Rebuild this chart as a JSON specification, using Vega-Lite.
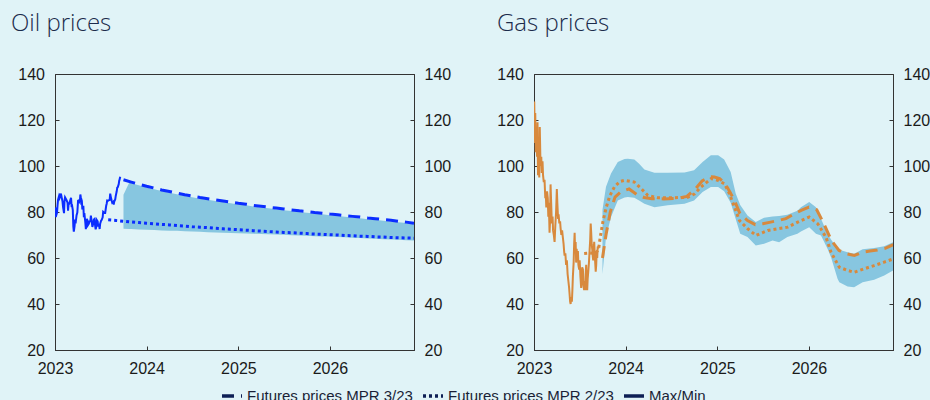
{
  "$schema": "https://vega.github.io/schema/vega-lite/v6.json",
  "background": "#e0f3f7",
  "padding": {"left": 10, "top": 11, "right": 0, "bottom": 0},
  "autosize": {"type": "pad"},
  "bounds": "flush",
  "spacing": 120,
  "datasets": {
    "oil_spot": [
      {"date": "2023-01-02", "value": 82.0}, {"date": "2023-01-04", "value": 77.8}, {"date": "2023-01-06", "value": 78.6},
      {"date": "2023-01-09", "value": 79.6}, {"date": "2023-01-11", "value": 82.7}, {"date": "2023-01-13", "value": 85.3},
      {"date": "2023-01-17", "value": 86.9}, {"date": "2023-01-19", "value": 86.2}, {"date": "2023-01-23", "value": 88.0},
      {"date": "2023-01-25", "value": 86.1}, {"date": "2023-01-27", "value": 86.7}, {"date": "2023-01-31", "value": 84.5},
      {"date": "2023-02-02", "value": 82.2}, {"date": "2023-02-06", "value": 79.5}, {"date": "2023-02-08", "value": 85.1},
      {"date": "2023-02-10", "value": 86.4}, {"date": "2023-02-14", "value": 85.6}, {"date": "2023-02-16", "value": 85.1},
      {"date": "2023-02-20", "value": 84.1}, {"date": "2023-02-22", "value": 80.6}, {"date": "2023-02-24", "value": 83.2},
      {"date": "2023-02-28", "value": 83.9}, {"date": "2023-03-02", "value": 84.8}, {"date": "2023-03-06", "value": 86.2},
      {"date": "2023-03-08", "value": 82.7}, {"date": "2023-03-10", "value": 82.8}, {"date": "2023-03-13", "value": 80.8},
      {"date": "2023-03-15", "value": 73.7}, {"date": "2023-03-17", "value": 71.5}, {"date": "2023-03-20", "value": 73.8},
      {"date": "2023-03-22", "value": 76.7}, {"date": "2023-03-24", "value": 75.0}, {"date": "2023-03-28", "value": 78.6},
      {"date": "2023-03-31", "value": 79.8}, {"date": "2023-04-03", "value": 84.9}, {"date": "2023-04-05", "value": 85.0},
      {"date": "2023-04-10", "value": 84.2}, {"date": "2023-04-12", "value": 87.6}, {"date": "2023-04-14", "value": 86.3},
      {"date": "2023-04-18", "value": 84.8}, {"date": "2023-04-20", "value": 81.1}, {"date": "2023-04-24", "value": 82.7},
      {"date": "2023-04-26", "value": 77.7}, {"date": "2023-04-28", "value": 79.5}, {"date": "2023-05-02", "value": 75.3},
      {"date": "2023-05-04", "value": 72.5}, {"date": "2023-05-08", "value": 77.0}, {"date": "2023-05-10", "value": 76.4},
      {"date": "2023-05-12", "value": 74.2}, {"date": "2023-05-16", "value": 74.9}, {"date": "2023-05-18", "value": 75.9},
      {"date": "2023-05-22", "value": 76.0}, {"date": "2023-05-24", "value": 78.4}, {"date": "2023-05-26", "value": 76.9},
      {"date": "2023-05-30", "value": 73.5}, {"date": "2023-06-01", "value": 74.3}, {"date": "2023-06-05", "value": 76.7},
      {"date": "2023-06-07", "value": 76.9}, {"date": "2023-06-09", "value": 74.8}, {"date": "2023-06-12", "value": 72.5},
      {"date": "2023-06-14", "value": 73.2}, {"date": "2023-06-16", "value": 76.6}, {"date": "2023-06-20", "value": 75.9},
      {"date": "2023-06-22", "value": 74.1}, {"date": "2023-06-26", "value": 74.2}, {"date": "2023-06-28", "value": 72.6},
      {"date": "2023-06-30", "value": 74.9}, {"date": "2023-07-04", "value": 76.3}, {"date": "2023-07-06", "value": 76.5},
      {"date": "2023-07-10", "value": 77.7}, {"date": "2023-07-12", "value": 80.1}, {"date": "2023-07-14", "value": 79.9},
      {"date": "2023-07-18", "value": 79.6}, {"date": "2023-07-20", "value": 79.6}, {"date": "2023-07-24", "value": 82.7},
      {"date": "2023-07-26", "value": 83.6}, {"date": "2023-07-28", "value": 85.0}, {"date": "2023-08-01", "value": 84.9},
      {"date": "2023-08-03", "value": 85.1}, {"date": "2023-08-07", "value": 85.3}, {"date": "2023-08-09", "value": 88.0},
      {"date": "2023-08-11", "value": 86.8}, {"date": "2023-08-15", "value": 84.9}, {"date": "2023-08-17", "value": 84.1},
      {"date": "2023-08-21", "value": 84.5}, {"date": "2023-08-23", "value": 83.2}, {"date": "2023-08-25", "value": 84.5},
      {"date": "2023-08-29", "value": 85.5}, {"date": "2023-08-31", "value": 86.9}, {"date": "2023-09-04", "value": 89.0},
      {"date": "2023-09-06", "value": 90.6}, {"date": "2023-09-08", "value": 90.7}, {"date": "2023-09-12", "value": 92.1},
      {"date": "2023-09-14", "value": 93.7}, {"date": "2023-09-15", "value": 93.9}, {"date": "2023-09-18", "value": 95.3}
    ],
    "oil_fut": [
      {"series": "Futures prices MPR 3/23", "date": "2023-10-01", "value": 94.0},
      {"series": "Futures prices MPR 3/23", "date": "2023-11-01", "value": 93.0},
      {"series": "Futures prices MPR 3/23", "date": "2023-12-01", "value": 92.1},
      {"series": "Futures prices MPR 3/23", "date": "2024-01-01", "value": 91.2},
      {"series": "Futures prices MPR 3/23", "date": "2024-02-01", "value": 90.4},
      {"series": "Futures prices MPR 3/23", "date": "2024-03-01", "value": 89.6},
      {"series": "Futures prices MPR 3/23", "date": "2024-04-01", "value": 88.9},
      {"series": "Futures prices MPR 3/23", "date": "2024-05-01", "value": 88.2},
      {"series": "Futures prices MPR 3/23", "date": "2024-06-01", "value": 87.5},
      {"series": "Futures prices MPR 3/23", "date": "2024-07-01", "value": 86.9},
      {"series": "Futures prices MPR 3/23", "date": "2024-08-01", "value": 86.3},
      {"series": "Futures prices MPR 3/23", "date": "2024-09-01", "value": 85.8},
      {"series": "Futures prices MPR 3/23", "date": "2024-10-01", "value": 85.3},
      {"series": "Futures prices MPR 3/23", "date": "2024-11-01", "value": 84.8},
      {"series": "Futures prices MPR 3/23", "date": "2024-12-01", "value": 84.3},
      {"series": "Futures prices MPR 3/23", "date": "2025-01-01", "value": 83.8},
      {"series": "Futures prices MPR 3/23", "date": "2025-02-01", "value": 83.4},
      {"series": "Futures prices MPR 3/23", "date": "2025-03-01", "value": 82.9},
      {"series": "Futures prices MPR 3/23", "date": "2025-04-01", "value": 82.5},
      {"series": "Futures prices MPR 3/23", "date": "2025-05-01", "value": 82.1},
      {"series": "Futures prices MPR 3/23", "date": "2025-06-01", "value": 81.7},
      {"series": "Futures prices MPR 3/23", "date": "2025-07-01", "value": 81.3},
      {"series": "Futures prices MPR 3/23", "date": "2025-08-01", "value": 80.9},
      {"series": "Futures prices MPR 3/23", "date": "2025-09-01", "value": 80.5},
      {"series": "Futures prices MPR 3/23", "date": "2025-10-01", "value": 80.2},
      {"series": "Futures prices MPR 3/23", "date": "2025-11-01", "value": 79.8},
      {"series": "Futures prices MPR 3/23", "date": "2025-12-01", "value": 79.5},
      {"series": "Futures prices MPR 3/23", "date": "2026-01-01", "value": 79.1},
      {"series": "Futures prices MPR 3/23", "date": "2026-02-01", "value": 78.8},
      {"series": "Futures prices MPR 3/23", "date": "2026-03-01", "value": 78.4},
      {"series": "Futures prices MPR 3/23", "date": "2026-04-01", "value": 78.1},
      {"series": "Futures prices MPR 3/23", "date": "2026-05-01", "value": 77.8},
      {"series": "Futures prices MPR 3/23", "date": "2026-06-01", "value": 77.4},
      {"series": "Futures prices MPR 3/23", "date": "2026-07-01", "value": 77.1},
      {"series": "Futures prices MPR 3/23", "date": "2026-08-01", "value": 76.7},
      {"series": "Futures prices MPR 3/23", "date": "2026-09-01", "value": 76.4},
      {"series": "Futures prices MPR 3/23", "date": "2026-10-01", "value": 76.0},
      {"series": "Futures prices MPR 3/23", "date": "2026-11-01", "value": 75.6},
      {"series": "Futures prices MPR 3/23", "date": "2026-12-02", "value": 75.1},
      {"series": "Futures prices MPR 2/23", "date": "2023-08-01", "value": 76.6},
      {"series": "Futures prices MPR 2/23", "date": "2023-09-01", "value": 76.3},
      {"series": "Futures prices MPR 2/23", "date": "2023-10-01", "value": 76.0},
      {"series": "Futures prices MPR 2/23", "date": "2023-11-01", "value": 75.7},
      {"series": "Futures prices MPR 2/23", "date": "2023-12-01", "value": 75.4},
      {"series": "Futures prices MPR 2/23", "date": "2024-01-01", "value": 75.1},
      {"series": "Futures prices MPR 2/23", "date": "2024-02-01", "value": 74.9},
      {"series": "Futures prices MPR 2/23", "date": "2024-03-01", "value": 74.6},
      {"series": "Futures prices MPR 2/23", "date": "2024-04-01", "value": 74.4},
      {"series": "Futures prices MPR 2/23", "date": "2024-05-01", "value": 74.1},
      {"series": "Futures prices MPR 2/23", "date": "2024-06-01", "value": 73.9},
      {"series": "Futures prices MPR 2/23", "date": "2024-07-01", "value": 73.6},
      {"series": "Futures prices MPR 2/23", "date": "2024-08-01", "value": 73.4},
      {"series": "Futures prices MPR 2/23", "date": "2024-09-01", "value": 73.2},
      {"series": "Futures prices MPR 2/23", "date": "2024-10-01", "value": 72.9},
      {"series": "Futures prices MPR 2/23", "date": "2024-11-01", "value": 72.7},
      {"series": "Futures prices MPR 2/23", "date": "2024-12-01", "value": 72.5},
      {"series": "Futures prices MPR 2/23", "date": "2025-01-01", "value": 72.3},
      {"series": "Futures prices MPR 2/23", "date": "2025-02-01", "value": 72.1},
      {"series": "Futures prices MPR 2/23", "date": "2025-03-01", "value": 71.9},
      {"series": "Futures prices MPR 2/23", "date": "2025-04-01", "value": 71.7},
      {"series": "Futures prices MPR 2/23", "date": "2025-05-01", "value": 71.5},
      {"series": "Futures prices MPR 2/23", "date": "2025-06-01", "value": 71.3},
      {"series": "Futures prices MPR 2/23", "date": "2025-07-01", "value": 71.1},
      {"series": "Futures prices MPR 2/23", "date": "2025-08-01", "value": 71.0},
      {"series": "Futures prices MPR 2/23", "date": "2025-09-01", "value": 70.8},
      {"series": "Futures prices MPR 2/23", "date": "2025-10-01", "value": 70.6},
      {"series": "Futures prices MPR 2/23", "date": "2025-11-01", "value": 70.4},
      {"series": "Futures prices MPR 2/23", "date": "2025-12-01", "value": 70.3},
      {"series": "Futures prices MPR 2/23", "date": "2026-01-01", "value": 70.1},
      {"series": "Futures prices MPR 2/23", "date": "2026-02-01", "value": 70.0},
      {"series": "Futures prices MPR 2/23", "date": "2026-03-01", "value": 69.8},
      {"series": "Futures prices MPR 2/23", "date": "2026-04-01", "value": 69.7},
      {"series": "Futures prices MPR 2/23", "date": "2026-05-01", "value": 69.5},
      {"series": "Futures prices MPR 2/23", "date": "2026-06-01", "value": 69.4},
      {"series": "Futures prices MPR 2/23", "date": "2026-07-01", "value": 69.2},
      {"series": "Futures prices MPR 2/23", "date": "2026-08-01", "value": 69.1},
      {"series": "Futures prices MPR 2/23", "date": "2026-09-01", "value": 68.9},
      {"series": "Futures prices MPR 2/23", "date": "2026-10-01", "value": 68.8},
      {"series": "Futures prices MPR 2/23", "date": "2026-11-01", "value": 68.7},
      {"series": "Futures prices MPR 2/23", "date": "2026-12-02", "value": 68.6}
    ],
    "oil_band": [
      {"series": "Max/Min", "date": "2023-10-01", "lo": 72.7, "hi": 87.5},
      {"series": "Max/Min", "date": "2023-10-25", "lo": 72.65, "hi": 93.0},
      {"series": "Max/Min", "date": "2023-11-01", "lo": 72.6, "hi": 92.5},
      {"series": "Max/Min", "date": "2023-12-01", "lo": 72.4, "hi": 91.6},
      {"series": "Max/Min", "date": "2024-01-01", "lo": 72.3, "hi": 90.7},
      {"series": "Max/Min", "date": "2024-02-01", "lo": 72.2, "hi": 89.9},
      {"series": "Max/Min", "date": "2024-03-01", "lo": 72.0, "hi": 89.1},
      {"series": "Max/Min", "date": "2024-04-01", "lo": 71.9, "hi": 88.4},
      {"series": "Max/Min", "date": "2024-05-01", "lo": 71.8, "hi": 87.7},
      {"series": "Max/Min", "date": "2024-06-01", "lo": 71.6, "hi": 87.0},
      {"series": "Max/Min", "date": "2024-07-01", "lo": 71.5, "hi": 86.4},
      {"series": "Max/Min", "date": "2024-08-01", "lo": 71.4, "hi": 85.8},
      {"series": "Max/Min", "date": "2024-09-01", "lo": 71.2, "hi": 85.3},
      {"series": "Max/Min", "date": "2024-10-01", "lo": 71.1, "hi": 84.8},
      {"series": "Max/Min", "date": "2024-11-01", "lo": 71.0, "hi": 84.3},
      {"series": "Max/Min", "date": "2024-12-01", "lo": 70.9, "hi": 83.8},
      {"series": "Max/Min", "date": "2025-01-01", "lo": 70.8, "hi": 83.3},
      {"series": "Max/Min", "date": "2025-02-01", "lo": 70.7, "hi": 82.9},
      {"series": "Max/Min", "date": "2025-03-01", "lo": 70.5, "hi": 82.4},
      {"series": "Max/Min", "date": "2025-04-01", "lo": 70.4, "hi": 82.0},
      {"series": "Max/Min", "date": "2025-05-01", "lo": 70.3, "hi": 81.6},
      {"series": "Max/Min", "date": "2025-06-01", "lo": 70.2, "hi": 81.2},
      {"series": "Max/Min", "date": "2025-07-01", "lo": 70.1, "hi": 80.8},
      {"series": "Max/Min", "date": "2025-08-01", "lo": 69.9, "hi": 80.4},
      {"series": "Max/Min", "date": "2025-09-01", "lo": 69.8, "hi": 80.0},
      {"series": "Max/Min", "date": "2025-10-01", "lo": 69.7, "hi": 79.7},
      {"series": "Max/Min", "date": "2025-11-01", "lo": 69.5, "hi": 79.3},
      {"series": "Max/Min", "date": "2025-12-01", "lo": 69.4, "hi": 79.0},
      {"series": "Max/Min", "date": "2026-01-01", "lo": 69.3, "hi": 78.6},
      {"series": "Max/Min", "date": "2026-02-01", "lo": 69.1, "hi": 78.3},
      {"series": "Max/Min", "date": "2026-03-01", "lo": 69.0, "hi": 77.9},
      {"series": "Max/Min", "date": "2026-04-01", "lo": 68.8, "hi": 77.6},
      {"series": "Max/Min", "date": "2026-05-01", "lo": 68.7, "hi": 77.3},
      {"series": "Max/Min", "date": "2026-06-01", "lo": 68.5, "hi": 76.9},
      {"series": "Max/Min", "date": "2026-07-01", "lo": 68.4, "hi": 76.6},
      {"series": "Max/Min", "date": "2026-08-01", "lo": 68.2, "hi": 76.2},
      {"series": "Max/Min", "date": "2026-09-01", "lo": 68.0, "hi": 75.9},
      {"series": "Max/Min", "date": "2026-10-01", "lo": 67.9, "hi": 75.5},
      {"series": "Max/Min", "date": "2026-11-01", "lo": 67.7, "hi": 75.2},
      {"series": "Max/Min", "date": "2026-12-02", "lo": 67.6, "hi": 74.9}
    ],
    "gas_spot": [
      {"date": "2023-01-01", "value": 110}, {"date": "2023-01-02", "value": 128}, {"date": "2023-01-04", "value": 112},
      {"date": "2023-01-06", "value": 123}, {"date": "2023-01-08", "value": 106}, {"date": "2023-01-10", "value": 116},
      {"date": "2023-01-13", "value": 104}, {"date": "2023-01-15", "value": 119}, {"date": "2023-01-17", "value": 96},
      {"date": "2023-01-20", "value": 103}, {"date": "2023-01-22", "value": 95}, {"date": "2023-01-24", "value": 117},
      {"date": "2023-01-27", "value": 100}, {"date": "2023-01-30", "value": 104}, {"date": "2023-02-01", "value": 97},
      {"date": "2023-02-04", "value": 102}, {"date": "2023-02-06", "value": 96}, {"date": "2023-02-09", "value": 93},
      {"date": "2023-02-12", "value": 94}, {"date": "2023-02-15", "value": 86}, {"date": "2023-02-17", "value": 88},
      {"date": "2023-02-19", "value": 82}, {"date": "2023-02-22", "value": 89}, {"date": "2023-02-25", "value": 86},
      {"date": "2023-02-27", "value": 78}, {"date": "2023-03-01", "value": 84}, {"date": "2023-03-04", "value": 71},
      {"date": "2023-03-06", "value": 76}, {"date": "2023-03-08", "value": 92}, {"date": "2023-03-11", "value": 82},
      {"date": "2023-03-13", "value": 75}, {"date": "2023-03-16", "value": 78}, {"date": "2023-03-18", "value": 72},
      {"date": "2023-03-21", "value": 70}, {"date": "2023-03-24", "value": 67}, {"date": "2023-03-27", "value": 74},
      {"date": "2023-03-30", "value": 80}, {"date": "2023-04-02", "value": 90}, {"date": "2023-04-04", "value": 84},
      {"date": "2023-04-07", "value": 77}, {"date": "2023-04-09", "value": 79}, {"date": "2023-04-12", "value": 75},
      {"date": "2023-04-15", "value": 76}, {"date": "2023-04-17", "value": 73}, {"date": "2023-04-20", "value": 70},
      {"date": "2023-04-23", "value": 72}, {"date": "2023-04-26", "value": 69}, {"date": "2023-04-29", "value": 66},
      {"date": "2023-05-01", "value": 63}, {"date": "2023-05-03", "value": 61}, {"date": "2023-05-06", "value": 62},
      {"date": "2023-05-09", "value": 57}, {"date": "2023-05-12", "value": 59}, {"date": "2023-05-15", "value": 53},
      {"date": "2023-05-18", "value": 50}, {"date": "2023-05-21", "value": 47}, {"date": "2023-05-23", "value": 44},
      {"date": "2023-05-25", "value": 41}, {"date": "2023-05-27", "value": 40}, {"date": "2023-05-29", "value": 43},
      {"date": "2023-06-01", "value": 41}, {"date": "2023-06-03", "value": 46}, {"date": "2023-06-05", "value": 52},
      {"date": "2023-06-08", "value": 58}, {"date": "2023-06-10", "value": 66}, {"date": "2023-06-12", "value": 71},
      {"date": "2023-06-14", "value": 62}, {"date": "2023-06-16", "value": 67}, {"date": "2023-06-18", "value": 58},
      {"date": "2023-06-20", "value": 64}, {"date": "2023-06-22", "value": 61}, {"date": "2023-06-25", "value": 63},
      {"date": "2023-06-27", "value": 57}, {"date": "2023-06-30", "value": 55}, {"date": "2023-07-02", "value": 59},
      {"date": "2023-07-05", "value": 52}, {"date": "2023-07-08", "value": 47}, {"date": "2023-07-10", "value": 51},
      {"date": "2023-07-12", "value": 56}, {"date": "2023-07-15", "value": 55}, {"date": "2023-07-17", "value": 48},
      {"date": "2023-07-20", "value": 46}, {"date": "2023-07-22", "value": 50}, {"date": "2023-07-24", "value": 46},
      {"date": "2023-07-26", "value": 53}, {"date": "2023-07-28", "value": 57}, {"date": "2023-07-30", "value": 49},
      {"date": "2023-08-01", "value": 46}, {"date": "2023-08-03", "value": 51}, {"date": "2023-08-06", "value": 55},
      {"date": "2023-08-08", "value": 58}, {"date": "2023-08-10", "value": 62}, {"date": "2023-08-13", "value": 68},
      {"date": "2023-08-15", "value": 75}, {"date": "2023-08-17", "value": 71}, {"date": "2023-08-19", "value": 66},
      {"date": "2023-08-21", "value": 64}, {"date": "2023-08-23", "value": 61}, {"date": "2023-08-25", "value": 59},
      {"date": "2023-08-27", "value": 64}, {"date": "2023-08-29", "value": 67}, {"date": "2023-08-31", "value": 62},
      {"date": "2023-09-02", "value": 58}, {"date": "2023-09-04", "value": 54}, {"date": "2023-09-06", "value": 57},
      {"date": "2023-09-08", "value": 63}, {"date": "2023-09-10", "value": 60}, {"date": "2023-09-12", "value": 65},
      {"date": "2023-09-15", "value": 64}
    ],
    "gas_fut": [
      {"series": "Futures prices MPR 3/23", "date": "2023-10-01", "value": 60.0},
      {"series": "Futures prices MPR 3/23", "date": "2023-10-15", "value": 70.0},
      {"series": "Futures prices MPR 3/23", "date": "2023-11-01", "value": 80.0},
      {"series": "Futures prices MPR 3/23", "date": "2023-11-20", "value": 86.5},
      {"series": "Futures prices MPR 3/23", "date": "2023-12-15", "value": 89.0},
      {"series": "Futures prices MPR 3/23", "date": "2024-01-15", "value": 90.0},
      {"series": "Futures prices MPR 3/23", "date": "2024-02-15", "value": 87.6},
      {"series": "Futures prices MPR 3/23", "date": "2024-03-15", "value": 86.3},
      {"series": "Futures prices MPR 3/23", "date": "2024-04-15", "value": 85.8},
      {"series": "Futures prices MPR 3/23", "date": "2024-06-01", "value": 85.7},
      {"series": "Futures prices MPR 3/23", "date": "2024-08-01", "value": 86.0},
      {"series": "Futures prices MPR 3/23", "date": "2024-09-01", "value": 86.8},
      {"series": "Futures prices MPR 3/23", "date": "2024-10-01", "value": 89.5},
      {"series": "Futures prices MPR 3/23", "date": "2024-11-01", "value": 93.5},
      {"series": "Futures prices MPR 3/23", "date": "2024-12-01", "value": 95.3},
      {"series": "Futures prices MPR 3/23", "date": "2024-12-20", "value": 95.2},
      {"series": "Futures prices MPR 3/23", "date": "2025-01-10", "value": 94.5},
      {"series": "Futures prices MPR 3/23", "date": "2025-02-01", "value": 92.3},
      {"series": "Futures prices MPR 3/23", "date": "2025-02-20", "value": 88.7},
      {"series": "Futures prices MPR 3/23", "date": "2025-03-10", "value": 85.0},
      {"series": "Futures prices MPR 3/23", "date": "2025-04-01", "value": 79.3},
      {"series": "Futures prices MPR 3/23", "date": "2025-05-01", "value": 76.3},
      {"series": "Futures prices MPR 3/23", "date": "2025-06-01", "value": 74.5},
      {"series": "Futures prices MPR 3/23", "date": "2025-07-01", "value": 74.9},
      {"series": "Futures prices MPR 3/23", "date": "2025-08-01", "value": 75.6},
      {"series": "Futures prices MPR 3/23", "date": "2025-09-01", "value": 76.3},
      {"series": "Futures prices MPR 3/23", "date": "2025-10-01", "value": 77.1},
      {"series": "Futures prices MPR 3/23", "date": "2025-11-01", "value": 79.0},
      {"series": "Futures prices MPR 3/23", "date": "2025-12-01", "value": 80.7},
      {"series": "Futures prices MPR 3/23", "date": "2026-01-01", "value": 82.1},
      {"series": "Futures prices MPR 3/23", "date": "2026-02-01", "value": 81.0},
      {"series": "Futures prices MPR 3/23", "date": "2026-03-01", "value": 75.0},
      {"series": "Futures prices MPR 3/23", "date": "2026-04-01", "value": 67.5},
      {"series": "Futures prices MPR 3/23", "date": "2026-05-01", "value": 63.3},
      {"series": "Futures prices MPR 3/23", "date": "2026-06-01", "value": 61.8},
      {"series": "Futures prices MPR 3/23", "date": "2026-07-01", "value": 61.1},
      {"series": "Futures prices MPR 3/23", "date": "2026-08-01", "value": 62.5},
      {"series": "Futures prices MPR 3/23", "date": "2026-09-01", "value": 63.0},
      {"series": "Futures prices MPR 3/23", "date": "2026-10-01", "value": 63.5},
      {"series": "Futures prices MPR 3/23", "date": "2026-11-01", "value": 64.2},
      {"series": "Futures prices MPR 3/23", "date": "2026-12-03", "value": 65.8},
      {"series": "Futures prices MPR 2/23", "date": "2023-07-20", "value": 62.0},
      {"series": "Futures prices MPR 2/23", "date": "2023-08-10", "value": 62.2},
      {"series": "Futures prices MPR 2/23", "date": "2023-09-01", "value": 62.0},
      {"series": "Futures prices MPR 2/23", "date": "2023-09-15", "value": 63.5},
      {"series": "Futures prices MPR 2/23", "date": "2023-09-22", "value": 69.0},
      {"series": "Futures prices MPR 2/23", "date": "2023-10-03", "value": 76.0},
      {"series": "Futures prices MPR 2/23", "date": "2023-10-16", "value": 82.0},
      {"series": "Futures prices MPR 2/23", "date": "2023-10-30", "value": 87.0},
      {"series": "Futures prices MPR 2/23", "date": "2023-11-18", "value": 91.0},
      {"series": "Futures prices MPR 2/23", "date": "2023-12-10", "value": 93.3},
      {"series": "Futures prices MPR 2/23", "date": "2023-12-28", "value": 93.8},
      {"series": "Futures prices MPR 2/23", "date": "2024-02-05", "value": 93.0},
      {"series": "Futures prices MPR 2/23", "date": "2024-03-03", "value": 90.2},
      {"series": "Futures prices MPR 2/23", "date": "2024-03-30", "value": 87.2},
      {"series": "Futures prices MPR 2/23", "date": "2024-05-09", "value": 86.2},
      {"series": "Futures prices MPR 2/23", "date": "2024-07-07", "value": 86.2},
      {"series": "Futures prices MPR 2/23", "date": "2024-09-05", "value": 86.4},
      {"series": "Futures prices MPR 2/23", "date": "2024-10-01", "value": 87.8},
      {"series": "Futures prices MPR 2/23", "date": "2024-10-28", "value": 90.9},
      {"series": "Futures prices MPR 2/23", "date": "2024-12-07", "value": 94.5},
      {"series": "Futures prices MPR 2/23", "date": "2025-01-02", "value": 93.8},
      {"series": "Futures prices MPR 2/23", "date": "2025-01-29", "value": 92.3},
      {"series": "Futures prices MPR 2/23", "date": "2025-02-18", "value": 88.0},
      {"series": "Futures prices MPR 2/23", "date": "2025-03-10", "value": 82.1},
      {"series": "Futures prices MPR 2/23", "date": "2025-03-30", "value": 76.3},
      {"series": "Futures prices MPR 2/23", "date": "2025-05-02", "value": 72.7},
      {"series": "Futures prices MPR 2/23", "date": "2025-06-04", "value": 69.8},
      {"series": "Futures prices MPR 2/23", "date": "2025-07-21", "value": 72.0},
      {"series": "Futures prices MPR 2/23", "date": "2025-08-29", "value": 72.7},
      {"series": "Futures prices MPR 2/23", "date": "2025-10-08", "value": 73.4},
      {"series": "Futures prices MPR 2/23", "date": "2025-11-17", "value": 75.6},
      {"series": "Futures prices MPR 2/23", "date": "2026-01-02", "value": 77.8},
      {"series": "Futures prices MPR 2/23", "date": "2026-02-05", "value": 74.9},
      {"series": "Futures prices MPR 2/23", "date": "2026-03-10", "value": 69.0},
      {"series": "Futures prices MPR 2/23", "date": "2026-03-30", "value": 62.5},
      {"series": "Futures prices MPR 2/23", "date": "2026-05-02", "value": 56.0},
      {"series": "Futures prices MPR 2/23", "date": "2026-06-04", "value": 54.6},
      {"series": "Futures prices MPR 2/23", "date": "2026-06-30", "value": 53.8},
      {"series": "Futures prices MPR 2/23", "date": "2026-08-09", "value": 55.3},
      {"series": "Futures prices MPR 2/23", "date": "2026-09-18", "value": 56.7},
      {"series": "Futures prices MPR 2/23", "date": "2026-10-28", "value": 58.2},
      {"series": "Futures prices MPR 2/23", "date": "2026-12-03", "value": 59.6}
    ],
    "gas_band": [
      {"series": "Max/Min", "date": "2023-10-01", "lo": 53.0, "hi": 81.0},
      {"series": "Max/Min", "date": "2023-10-15", "lo": 69.0, "hi": 91.0},
      {"series": "Max/Min", "date": "2023-11-04", "lo": 77.8, "hi": 96.7},
      {"series": "Max/Min", "date": "2023-12-01", "lo": 85.0, "hi": 101.7},
      {"series": "Max/Min", "date": "2023-12-28", "lo": 86.3, "hi": 103.0},
      {"series": "Max/Min", "date": "2024-01-10", "lo": 86.5, "hi": 103.2},
      {"series": "Max/Min", "date": "2024-02-05", "lo": 86.2, "hi": 102.8},
      {"series": "Max/Min", "date": "2024-02-24", "lo": 85.0, "hi": 101.0},
      {"series": "Max/Min", "date": "2024-03-16", "lo": 83.6, "hi": 98.5},
      {"series": "Max/Min", "date": "2024-04-25", "lo": 82.1, "hi": 97.1},
      {"series": "Max/Min", "date": "2024-06-17", "lo": 82.9, "hi": 97.1},
      {"series": "Max/Min", "date": "2024-08-23", "lo": 83.6, "hi": 97.2},
      {"series": "Max/Min", "date": "2024-09-30", "lo": 85.0, "hi": 98.1},
      {"series": "Max/Min", "date": "2024-11-03", "lo": 88.7, "hi": 101.7},
      {"series": "Max/Min", "date": "2024-12-06", "lo": 90.9, "hi": 104.7},
      {"series": "Max/Min", "date": "2025-01-04", "lo": 90.9, "hi": 104.7},
      {"series": "Max/Min", "date": "2025-01-28", "lo": 89.0, "hi": 102.8},
      {"series": "Max/Min", "date": "2025-02-23", "lo": 84.0, "hi": 97.4},
      {"series": "Max/Min", "date": "2025-03-15", "lo": 77.0, "hi": 88.0},
      {"series": "Max/Min", "date": "2025-04-02", "lo": 70.5, "hi": 83.0},
      {"series": "Max/Min", "date": "2025-05-01", "lo": 69.1, "hi": 78.5},
      {"series": "Max/Min", "date": "2025-06-03", "lo": 65.4, "hi": 75.6},
      {"series": "Max/Min", "date": "2025-07-06", "lo": 66.2, "hi": 77.5},
      {"series": "Max/Min", "date": "2025-08-09", "lo": 67.6, "hi": 78.0},
      {"series": "Max/Min", "date": "2025-09-04", "lo": 66.9, "hi": 78.3},
      {"series": "Max/Min", "date": "2025-10-07", "lo": 69.1, "hi": 78.8},
      {"series": "Max/Min", "date": "2025-11-16", "lo": 70.5, "hi": 80.5},
      {"series": "Max/Min", "date": "2025-11-30", "lo": 71.5, "hi": 82.1},
      {"series": "Max/Min", "date": "2026-01-02", "lo": 73.4, "hi": 84.3},
      {"series": "Max/Min", "date": "2026-01-29", "lo": 70.5, "hi": 82.1},
      {"series": "Max/Min", "date": "2026-02-18", "lo": 69.8, "hi": 77.1},
      {"series": "Max/Min", "date": "2026-03-16", "lo": 64.0, "hi": 70.5},
      {"series": "Max/Min", "date": "2026-03-30", "lo": 60.3, "hi": 68.0},
      {"series": "Max/Min", "date": "2026-04-25", "lo": 51.0, "hi": 64.0},
      {"series": "Max/Min", "date": "2026-05-02", "lo": 49.5, "hi": 63.6},
      {"series": "Max/Min", "date": "2026-06-04", "lo": 47.6, "hi": 62.5},
      {"series": "Max/Min", "date": "2026-06-30", "lo": 47.3, "hi": 61.8},
      {"series": "Max/Min", "date": "2026-08-03", "lo": 49.5, "hi": 63.8},
      {"series": "Max/Min", "date": "2026-09-18", "lo": 50.5, "hi": 64.3},
      {"series": "Max/Min", "date": "2026-10-28", "lo": 52.4, "hi": 65.1},
      {"series": "Max/Min", "date": "2026-12-03", "lo": 54.6, "hi": 66.9}
    ]
  },
  "hconcat": [
    {
      "width": 359,
      "height": 276,
      "title": {"text": "Oil prices", "anchor": "start", "frame": "group", "dx": -44, "offset": 11, "baseline": "alphabetic", "fontSize": 24, "font": "Open Sans", "fontWeight": 300, "color": "#1b2b4b"},
      "layer": [
        {
          "data": {"name": "oil_band"},
          "mark": {"type": "area", "color": "#87c6e0", "opacity": 1, "clip": true},
          "encoding": {
            "x": {"field": "date", "type": "temporal", "scale": {"domain": [{"year": 2023, "month": 1, "date": 1}, {"year": 2026, "month": 12, "date": 2}]},
                  "axis": {"values": [{"year": 2023, "month": 1, "date": 1}, {"year": 2024, "month": 1, "date": 1}, {"year": 2025, "month": 1, "date": 1}, {"year": 2026, "month": 1, "date": 1}], "format": "%Y", "labelPadding": 14, "labelFlush": false}},
            "y": {"field": "lo", "type": "quantitative", "scale": {"domain": [20, 140], "nice": false, "zero": false}, "axis": {"orient": "left", "values": [20, 40, 60, 80, 100, 120, 140], "labelPadding": 14.5}},
            "y2": {"field": "hi"},
            "strokeDash": {"field": "series", "type": "nominal", "scale": {"domain": ["Futures prices MPR 3/23", "Futures prices MPR 2/23", "Max/Min"], "range": [[12, 7], [3, 3], [1, 0]]}}
          }
        },
        {
          "data": {"name": "oil_spot"},
          "mark": {"type": "line", "color": "#0b2dff", "strokeWidth": 2, "clip": true},
          "encoding": {
            "x": {"field": "date", "type": "temporal"},
            "y": {"field": "value", "type": "quantitative", "axis": {"orient": "right", "values": [20, 40, 60, 80, 100, 120, 140], "labelPadding": 14}}
          }
        },
        {
          "data": {"name": "oil_fut"},
          "mark": {"type": "line", "color": "#0b2dff", "strokeWidth": 3, "strokeCap": "butt", "clip": true},
          "encoding": {
            "x": {"field": "date", "type": "temporal"},
            "y": {"field": "value", "type": "quantitative", "axis": null},
            "strokeDash": {"field": "series", "type": "nominal",
              "scale": {"domain": ["Futures prices MPR 3/23", "Futures prices MPR 2/23", "Max/Min"], "range": [[12, 7], [3, 3], [1, 0]]},
              "legend": {
                "title": null, "orient": "none", "direction": "horizontal", "legendX": 165, "legendY": 310,
                "labelFontSize": 15, "labelFont": "Liberation Sans", "labelColor": "#1a1f36", "labelLimit": 400, "symbolSize": 400, "labelOffset": 3, "columnPadding": 3,
                "symbolStrokeColor": "#0d1f55", "symbolStrokeWidth": 3.5
              }
            }
          }
        }
      ],
      "resolve": {"axis": {"y": "independent"}}
    },
    {
      "width": 359,
      "height": 276,
      "title": {"text": "Gas prices", "anchor": "start", "frame": "group", "dx": -37, "offset": 11, "baseline": "alphabetic", "fontSize": 24, "font": "Open Sans", "fontWeight": 300, "color": "#1b2b4b"},
      "layer": [
        {
          "data": {"name": "gas_band"},
          "mark": {"type": "area", "color": "#87c6e0", "opacity": 1, "clip": true},
          "encoding": {
            "x": {"field": "date", "type": "temporal", "scale": {"domain": [{"year": 2023, "month": 1, "date": 1}, {"year": 2026, "month": 12, "date": 2}]},
                  "axis": {"values": [{"year": 2023, "month": 1, "date": 1}, {"year": 2024, "month": 1, "date": 1}, {"year": 2025, "month": 1, "date": 1}, {"year": 2026, "month": 1, "date": 1}], "format": "%Y", "labelPadding": 14, "labelFlush": false}},
            "y": {"field": "lo", "type": "quantitative", "scale": {"domain": [20, 140], "nice": false, "zero": false}, "axis": {"orient": "left", "values": [20, 40, 60, 80, 100, 120, 140], "labelPadding": 14.5}},
            "y2": {"field": "hi"},
            "strokeDash": {"field": "series", "type": "nominal", "scale": {"domain": ["Futures prices MPR 3/23", "Futures prices MPR 2/23", "Max/Min"], "range": [[12, 7], [3, 3], [1, 0]]}}
          }
        },
        {
          "data": {"name": "gas_spot"},
          "mark": {"type": "line", "color": "#d8893d", "strokeWidth": 2, "clip": true},
          "encoding": {
            "x": {"field": "date", "type": "temporal"},
            "y": {"field": "value", "type": "quantitative", "axis": {"orient": "right", "values": [20, 40, 60, 80, 100, 120, 140], "labelPadding": 14}}
          }
        },
        {
          "data": {"name": "gas_fut"},
          "mark": {"type": "line", "color": "#d8893d", "strokeWidth": 3, "strokeCap": "butt", "clip": true},
          "encoding": {
            "x": {"field": "date", "type": "temporal"},
            "y": {"field": "value", "type": "quantitative", "axis": null},
            "strokeDash": {"field": "series", "type": "nominal",
              "scale": {"domain": ["Futures prices MPR 3/23", "Futures prices MPR 2/23", "Max/Min"], "range": [[12, 7], [3, 3], [1, 0]]},
              "legend": {
                "title": null, "orient": "none", "direction": "horizontal", "legendX": 165, "legendY": 310,
                "labelFontSize": 15, "labelFont": "Liberation Sans", "labelColor": "#1a1f36", "labelLimit": 400, "symbolSize": 400, "labelOffset": 3, "columnPadding": 3,
                "symbolStrokeColor": "#0d1f55", "symbolStrokeWidth": 3.5
              }
            }
          }
        }
      ],
      "resolve": {"axis": {"y": "independent"}}
    }
  ],
  "resolve": {"scale": {"strokeDash": "shared"}, "legend": {"strokeDash": "shared"}},
  "config": {
    "view": {"stroke": "#333", "strokeWidth": 1},
    "axis": {"labelFont": "Liberation Sans", "labelFontSize": 16, "labelColor": "#1a1a1a", "domainColor": "#333", "tickColor": "#333", "tickSize": -4, "grid": false, "title": null}
  }
}
